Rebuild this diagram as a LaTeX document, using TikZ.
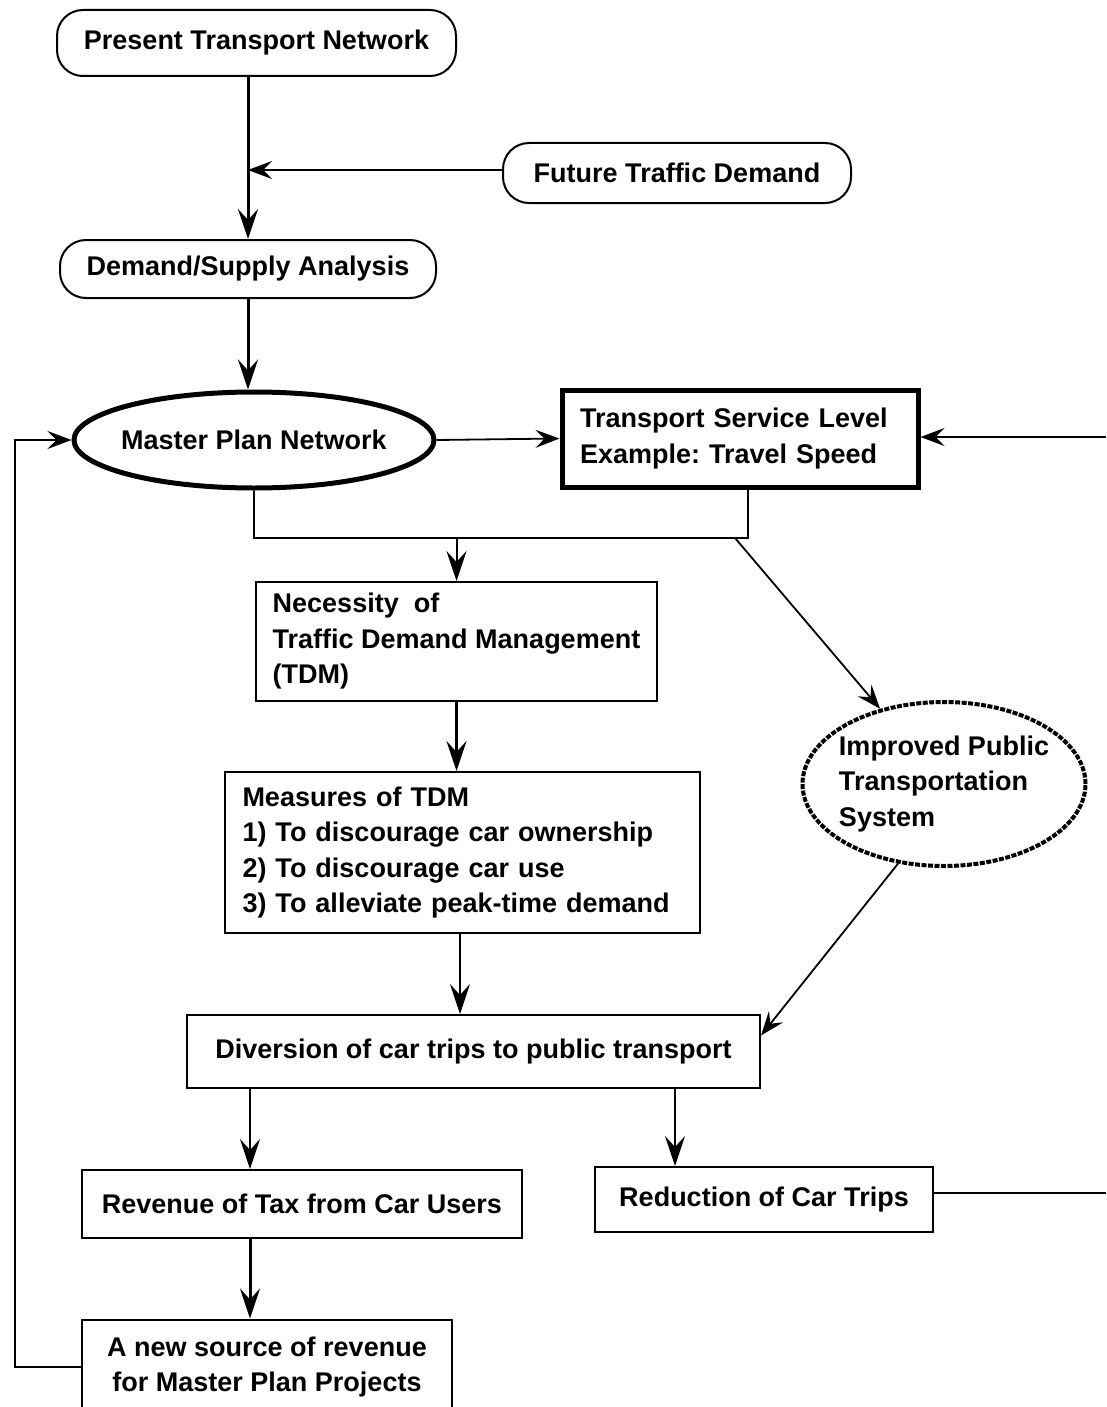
\documentclass[tikz,border=0pt]{standalone}
\usepackage{fontspec}
\setmainfont{Liberation Sans}
\usetikzlibrary{arrows.meta,shapes.geometric}
\frenchspacing

\begin{document}
\begin{tikzpicture}[x=1pt,y=-1pt]
\tikzstyle{every node}=[font=\fontsize{27}{35.5}\selectfont\bfseries, inner sep=0pt]
\tikzstyle{term}=[draw, line width=2pt, rounded corners=26pt]
\tikzstyle{block}=[draw, line width=2pt]
\tikzstyle{heavy}=[draw, line width=5pt]
\tikzstyle{oval}=[draw, ellipse, line width=5pt]
\tikzstyle{hatched}=[draw, ellipse, line width=4pt, dash pattern=on 5pt off 1.5pt]
\tikzstyle{flow}=[-{Stealth[length=30pt,width=20pt,inset=11pt]}, line width=3pt]
\tikzstyle{link}=[-{Stealth[length=24pt,width=18pt,inset=9pt]}, line width=1.8pt]

\useasboundingbox (0,0) rectangle (1106,1407);

% boxes
\node[term, minimum width=399pt, minimum height=66pt] (present) at (256.5,43) {Present Transport Network};
\node[term, minimum width=348pt, minimum height=60pt] (future) at (677,173) {Future Traffic Demand};
\node[term, minimum width=376pt, minimum height=58pt] (analysis) at (248,269) {Demand/Supply Analysis};
\node[oval, minimum width=360pt, minimum height=96pt, inner xsep=-10pt] (master) at (254,440) {Master Plan Network};
\node[heavy, minimum height=97pt, inner xsep=18pt, text width=320pt, align=left] (service) at (740,438.5)
	{Transport Service Level\\Example: Travel Speed};
\node[block, minimum width=401pt, minimum height=119pt, align=left] (necessity) at (456.5,641.5)
	{Necessity\ \ of\\Traffic Demand Management\\(TDM)};
\node[hatched, minimum width=283pt, minimum height=164pt, inner xsep=-16pt, align=left] (improved) at (944,784)
	{Improved Public\\Transportation\\System};
\node[block, minimum height=161pt, inner xsep=17.5pt, text width=440pt, align=left] (measures) at (462.5,852.5)
	{Measures of TDM\\1) To discourage car ownership\\2) To discourage car use\\3) To alleviate peak-time demand};
\node[block, minimum width=573pt, minimum height=73pt] (diversion) at (473.5,1051.5) {Diversion of car trips to public transport};
\node[block, minimum width=440pt, minimum height=68pt] (revenue) at (302,1204) {Revenue of Tax from Car Users};
\node[block, minimum width=338pt, minimum height=65pt] (reduction) at (764,1199.5) {Reduction of Car Trips};
\node[block, minimum width=370pt, minimum height=95pt, align=center] (source) at (267,1367)
	{A new source of revenue\\for Master Plan Projects};

% helper points
\coordinate (join) at (248,170);
\coordinate (fork) at (748,538);
\coordinate (split) at (735,538);
\coordinate (col1) at (250,0);
\coordinate (col2) at (675,0);
\coordinate (col3) at (460,0);
\coordinate (back) at (15,0);
\coordinate (edgeA) at (1106,437);
\coordinate (edgeB) at (1106,1193);

% connectors
\draw[flow] (present.south -| join) -- (analysis.north -| join);
\draw[link] (future.west |- join) -- (join);
\draw[flow] (analysis.south -| join) -- (master.north -| join);
\draw[link] (master.east) -- (service.west);
\draw[link] (edgeA) -- (service.east |- edgeA);
\draw[line width=2pt] (master.south) |- (fork) -- (fork |- service.south);
\draw[flow, line width=2pt] (necessity.north |- fork) -- (necessity.north);
\draw[link] (split) -- (improved);
\draw[flow] (necessity.south) -- (measures.north -| necessity.south);
\draw[flow, line width=2pt] (measures.south -| col3) -- (diversion.north -| col3);
\draw[link] (improved.240) -- ([yshift=16pt]diversion.east);
\draw[flow, line width=2pt] (diversion.south -| col1) -- (revenue.north -| col1);
\draw[flow, line width=2pt] (diversion.south -| col2) -- (reduction.north -| col2);
\draw[line width=1.8pt] (reduction.east |- edgeB) -- (edgeB);
\draw[flow] (revenue.south -| col1) -- (source.north -| col1);
\draw[link] (source.west) -- (source.west -| back) |- (master.west);
\end{tikzpicture}
\end{document}
